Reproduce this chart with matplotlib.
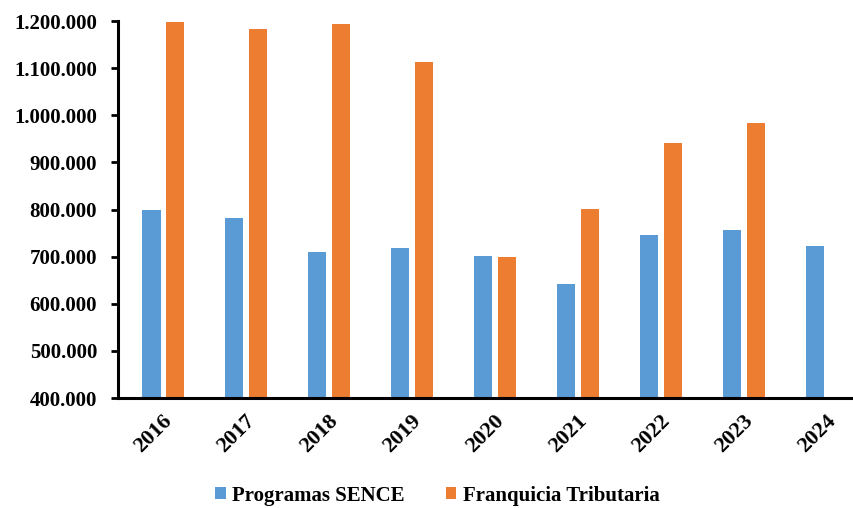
import numpy as np
import matplotlib
matplotlib.use("Agg")
import matplotlib.pyplot as plt
from matplotlib.ticker import FuncFormatter

plt.rcParams['font.family'] = ['Liberation Serif', 'DejaVu Serif']
plt.rcParams['font.weight'] = 'bold'

# values
years = ['2016', '2017', '2018', '2019', '2020', '2021', '2022', '2023', '2024']
sence = [798000, 783000, 709000, 719000, 702000, 641000, 747000, 756000, 723000]
franquicia = [1199000, 1183000, 1194000, 1114000, 700000, 802000, 941000, 984000, np.nan]

blue = '#5B9BD5'
orange = '#ED7D31'

fig = plt.figure(figsize=(8.54, 5.08), dpi=100)
ax = fig.add_axes([0.138, 0.2165, 0.86, 0.742])

x = np.arange(len(years))
w = 0.217
off = (w + 0.072) / 2
ax.bar(x - off, sence, width=w, color=blue, label='Programas SENCE', zorder=2)
ax.bar(x + off, franquicia, width=w, color=orange, label='Franquicia Tributaria', zorder=2)

ax.set_ylim(400000, 1200000)
ax.set_xlim(-0.55, 8.3)
ax.set_yticks(np.arange(400000, 1200001, 100000))
ax.yaxis.set_major_formatter(FuncFormatter(lambda v, p: f'{int(v):,}'.replace(',', '.')))

ax.set_xticks(x - 0.02)
ax.set_xticklabels(years, rotation=45, ha='right', rotation_mode='anchor')

for s in ['top', 'right']:
    ax.spines[s].set_visible(False)
for s in ['left', 'bottom']:
    ax.spines[s].set_linewidth(2.2)
    ax.spines[s].set_color('black')

ax.tick_params(axis='y', labelsize=15, length=5, width=2, pad=10)
ax.tick_params(axis='x', labelsize=16, length=0, pad=9)

ax.legend(loc='lower center', bbox_to_anchor=(0.435, -0.335), ncol=2, frameon=False,
          fontsize=15, handlelength=0.5, handleheight=0.5, handletextpad=0.3,
          columnspacing=2.0)

fig.savefig('out.png', dpi=100)
